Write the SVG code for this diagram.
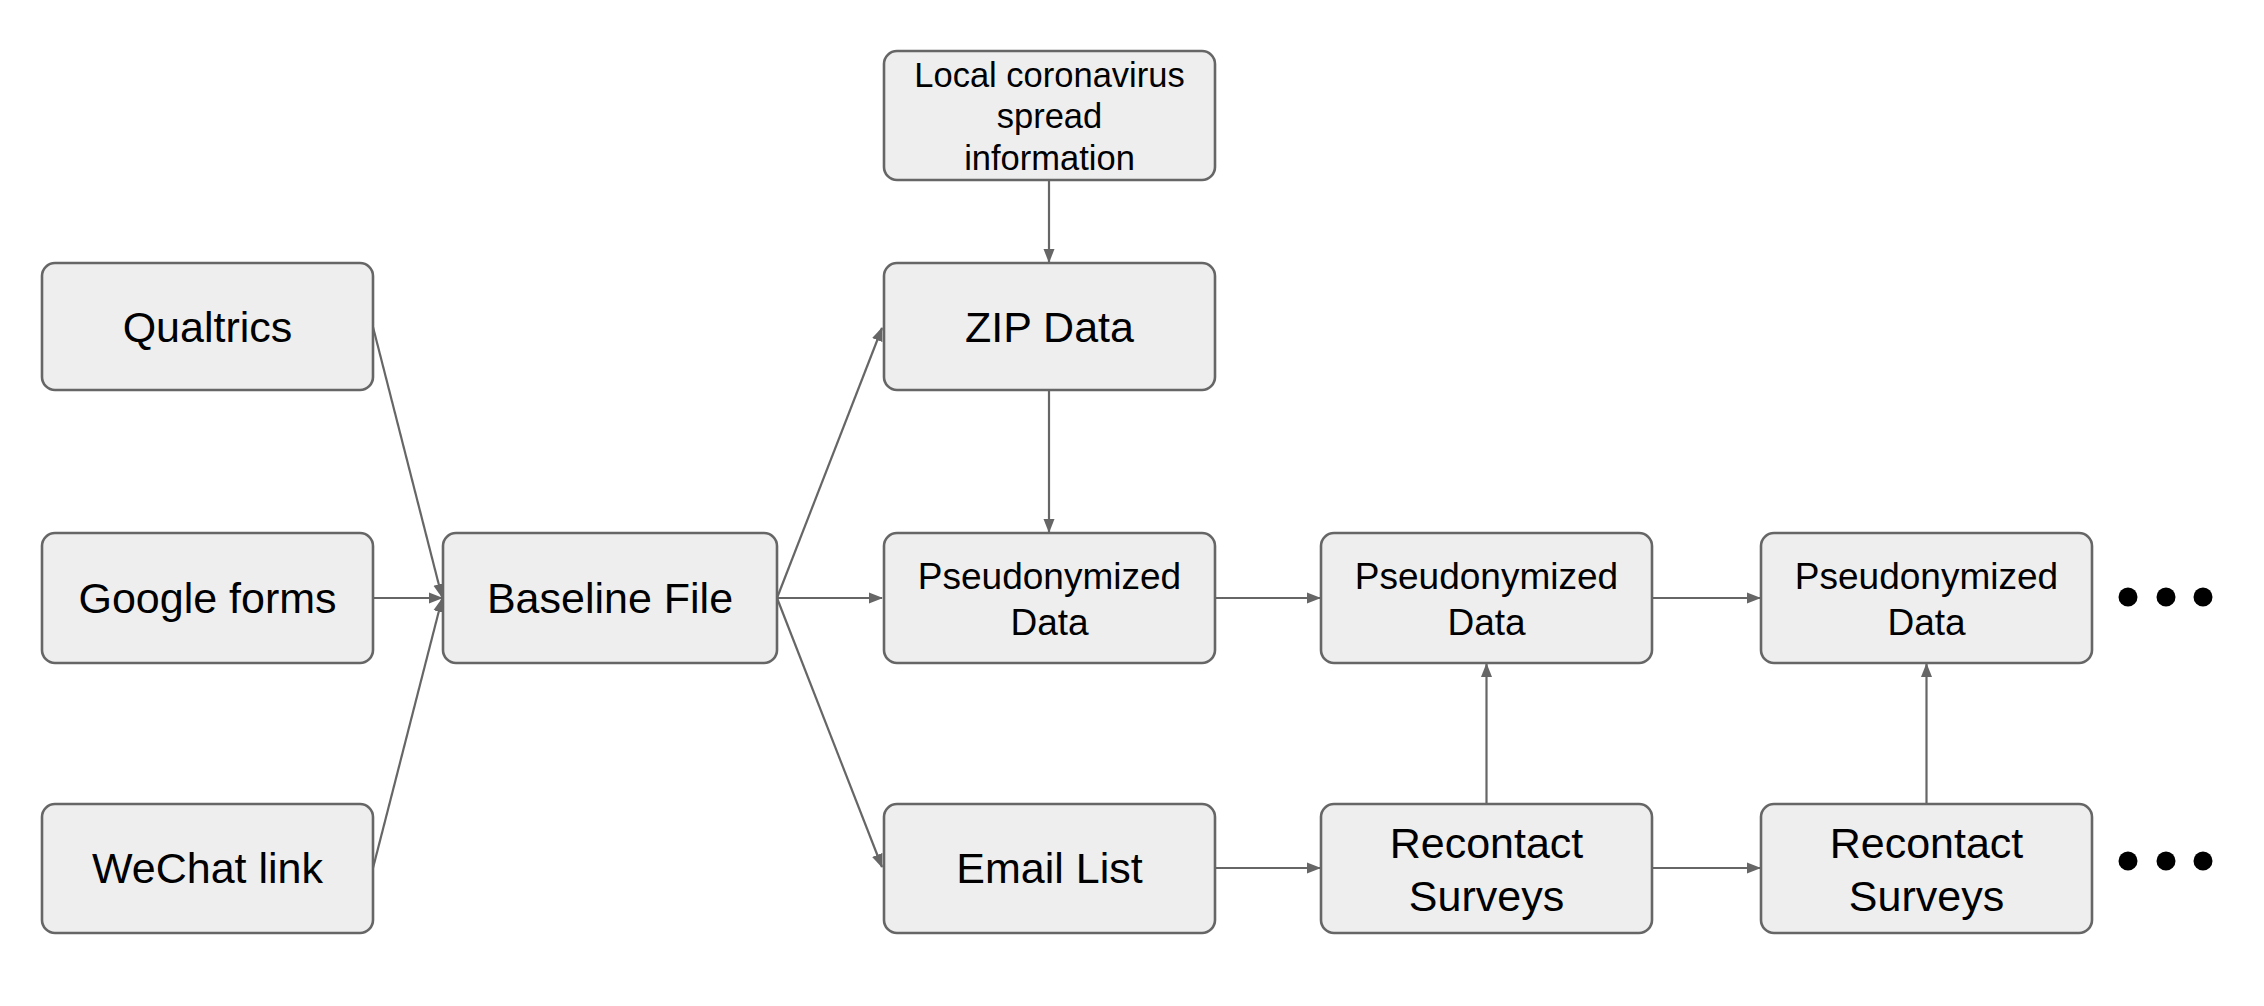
<svg xmlns="http://www.w3.org/2000/svg" width="2264" height="1006" viewBox="0 0 2264 1006">
<defs>
<marker id="ah" markerUnits="userSpaceOnUse" markerWidth="14" markerHeight="12" viewBox="0 0 14 12" refX="13" refY="6" orient="auto">
<path d="M0,0.5 L14,6 L0,11.5 Z" fill="#666666"/>
</marker>
<style>
.box{fill:#eeeeee;stroke:#666666;stroke-width:2.6}
.t{font-family:"Liberation Sans",Arial,sans-serif;fill:#000000;text-anchor:middle}
.big{font-size:43px}
.mid{font-size:37px}
.sm{font-size:34.5px}
.c{stroke:#666666;stroke-width:2.2;fill:none;marker-end:url(#ah)}
.dot{fill:#000000}
</style>
</defs>
<rect width="2264" height="1006" fill="#ffffff"/>
<g id="connectors">
<line class="c" x1="373" y1="327" x2="442" y2="597"/>
<line class="c" x1="373" y1="598" x2="442" y2="598"/>
<line class="c" x1="373" y1="868" x2="442" y2="599"/>
<line class="c" x1="777" y1="598" x2="882" y2="328"/>
<line class="c" x1="777" y1="598" x2="882" y2="598"/>
<line class="c" x1="777" y1="598" x2="882" y2="867"/>
<line class="c" x1="1049" y1="180" x2="1049" y2="262"/>
<line class="c" x1="1049" y1="390" x2="1049" y2="532"/>
<line class="c" x1="1215" y1="598" x2="1320" y2="598"/>
<line class="c" x1="1652" y1="598" x2="1760" y2="598"/>
<line class="c" x1="1215" y1="868" x2="1320" y2="868"/>
<line class="c" x1="1652" y1="868" x2="1760" y2="868"/>
<line class="c" x1="1486.5" y1="804" x2="1486.5" y2="664"/>
<line class="c" x1="1926.5" y1="804" x2="1926.5" y2="664"/>
</g>
<g id="local">
<rect class="box" x="884" y="51" width="331" height="129" rx="13"/>
<text class="t sm" x="1049.5" y="87">Local coronavirus</text>
<text class="t sm" x="1049.5" y="128">spread</text>
<text class="t sm" x="1049.5" y="170">information</text>
</g>
<g id="qualtrics">
<rect class="box" x="42" y="263" width="331" height="127" rx="13"/>
<text class="t big" x="207.5" y="342">Qualtrics</text>
</g>
<g id="google">
<rect class="box" x="42" y="533" width="331" height="130" rx="13"/>
<text class="t big" x="207.5" y="613">Google forms</text>
</g>
<g id="wechat">
<rect class="box" x="42" y="804" width="331" height="129" rx="13"/>
<text class="t big" x="207.5" y="883">WeChat link</text>
</g>
<g id="baseline">
<rect class="box" x="443" y="533" width="334" height="130" rx="13"/>
<text class="t big" x="610" y="613">Baseline File</text>
</g>
<g id="zip">
<rect class="box" x="884" y="263" width="331" height="127" rx="13"/>
<text class="t big" x="1049.5" y="342">ZIP Data</text>
</g>
<g id="pseudo1">
<rect class="box" x="884" y="533" width="331" height="130" rx="13"/>
<text class="t mid" x="1049.5" y="589">Pseudonymized</text>
<text class="t mid" x="1049.5" y="635">Data</text>
</g>
<g id="email">
<rect class="box" x="884" y="804" width="331" height="129" rx="13"/>
<text class="t big" x="1049.5" y="883">Email List</text>
</g>
<g id="pseudo2">
<rect class="box" x="1321" y="533" width="331" height="130" rx="13"/>
<text class="t mid" x="1486.5" y="589">Pseudonymized</text>
<text class="t mid" x="1486.5" y="635">Data</text>
</g>
<g id="recontact1">
<rect class="box" x="1321" y="804" width="331" height="129" rx="13"/>
<text class="t big" x="1486.5" y="858">Recontact</text>
<text class="t big" x="1486.5" y="911">Surveys</text>
</g>
<g id="pseudo3">
<rect class="box" x="1761" y="533" width="331" height="130" rx="13"/>
<text class="t mid" x="1926.5" y="589">Pseudonymized</text>
<text class="t mid" x="1926.5" y="635">Data</text>
</g>
<g id="recontact2">
<rect class="box" x="1761" y="804" width="331" height="129" rx="13"/>
<text class="t big" x="1926.5" y="858">Recontact</text>
<text class="t big" x="1926.5" y="911">Surveys</text>
</g>
<g id="ellipsis1">
<circle class="dot" cx="2128" cy="597" r="9.5"/>
<circle class="dot" cx="2166" cy="597" r="9.5"/>
<circle class="dot" cx="2203" cy="597" r="9.5"/>
</g>
<g id="ellipsis2">
<circle class="dot" cx="2128" cy="861" r="9.5"/>
<circle class="dot" cx="2166" cy="861" r="9.5"/>
<circle class="dot" cx="2203" cy="861" r="9.5"/>
</g>
</svg>
